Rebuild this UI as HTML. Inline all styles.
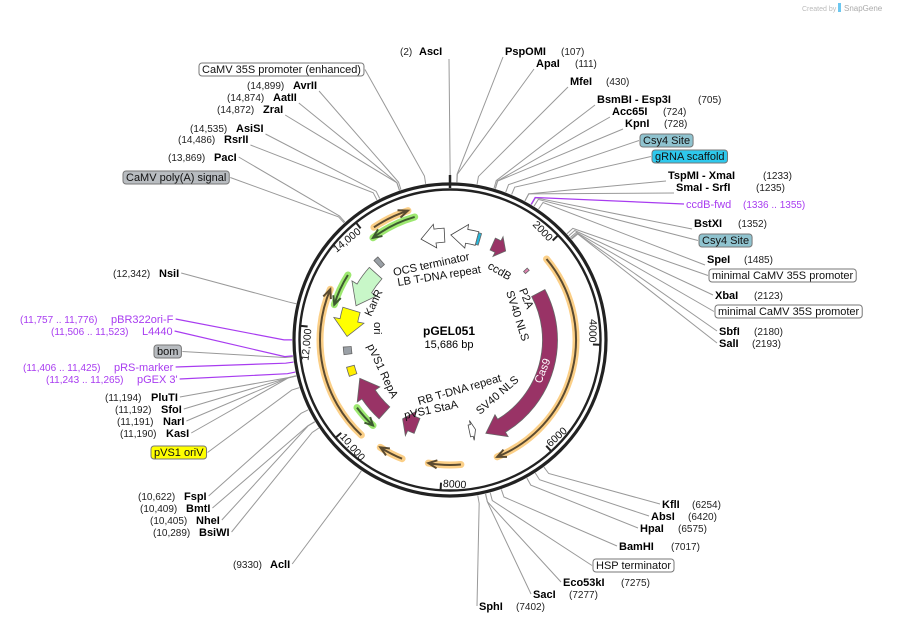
<!DOCTYPE html>
<html><head><meta charset="utf-8">
<style>
html,body{margin:0;padding:0;background:#fff;}
svg{display:block;font-family:"Liberation Sans","DejaVu Sans",sans-serif;}
.en{font-weight:bold;font-size:11px;fill:#000;}
.num{font-size:10px;fill:#222;}
.prim{font-size:11px;fill:#a83cf0;}
.primn{font-size:10px;fill:#a83cf0;}
.flab{font-size:11px;fill:#111;}
</style></head>
<body>
<svg id="map" width="899" height="624" viewBox="0 0 899 624">
<text x="802" y="11" font-size="7" fill="#bbb">Created by</text>
<rect x="838" y="3" width="3" height="9" fill="#6cc7f0"/>
<text x="844" y="11" font-size="8" fill="#aaa">SnapGene</text>
<g id="leaders"></g>
<g id="ring"></g>
<g id="feats"></g>
<g id="labels"></g>
<text x="449" y="335" text-anchor="middle" font-weight="bold" font-size="12">pGEL051</text>
<text x="449" y="348" text-anchor="middle" font-size="11">15,686 bp</text>
</svg>
<script>
const TOTAL = 15686;
const CX = 450, CY = 340, R = 156;
// tick positions (bp) and labels
const tickBp = [2000, 4000, 6000, 8000, 10000, 12000, 14000];
const tickLabels = ["2000", "4000", "6000", "8000", "10,000", "12,000", "14,000"];
// features
const featNames = ["Cas9","Cas9-primer-arc","arc-bottom-1","arc-bottom-2","arc-left","arc-top","green-small","green-left","green-top","OCS-terminator","LB-T-DNA-repeat","cyan-site","ccdB","KanR","ori","bom-box","oriV-box","pVS1-RepA","pVS1-StaA","RB-T-DNA-repeat","polyA-box","P2A-site"];
const featStart = [2701, 2179, 7625, 8801, 9716, 14204, 9673, 12505, 14073, 14988, 20, 650, 1046, 12636, 11851, 11420, 10900, 9673, 8758, 7150, 13780, 2050];
const featEnd   = [6928, 6884, 8278, 9281, 12766, 14901, 10195, 13180, 14988, 15555, 650, 720, 1394, 13594, 12505, 11600, 11120, 10762, 9194, 7320, 13900, 2120];
const featR     = [100, 126, 125, 128, 130, 136, 115, 121, 128, 105, 105, 105, 105, 100, 103, 103, 103, 98, 92, 93, 105, 103];
const featW     = [15, 3, 3, 3, 3, 3, 3, 3, 3, 14, 14, 12, 13, 17, 18, 8, 8, 16, 16, 12, 10, 5];
const featFill  = ["#993366","#5a4a30","#5a4a30","#5a4a30","#5a4a30","#5a4a30","#3d5a30","#3d5a30","#3d5a30","#fff","#fff","#25b8dc","#993366","#c8f7c8","#ffff00","#9aa0a6","#ffee00","#993366","#993366","#fff","#9aa0a6","#e080b0"];
const featHalo  = [null,"#fbcf87","#fbcf87","#fbcf87","#fbcf87","#fbcf87","#9de870","#9de870","#9de870",null,null,null,null,null,null,null,null,null,null,null,null,null];
const featDir   = [1, 1, 1, 1, 1, 1, -1, -1, -1, -1, -1, 0, 1, -1, -1, 0, 0, 1, 1, -1, 0, 0];

// enzyme labels
const labName = ["AscI","PspOMI","ApaI","MfeI","BsmBI   - Esp3I","Acc65I","KpnI","TspMI   - XmaI","SmaI   - SrfI","BstXI","SpeI","XbaI","SbfI","SalI","KflI","AbsI","HpaI","BamHI","Eco53kI","SacI","SphI","AclI","FspI","BmtI","NheI","BsiWI","PluTI","SfoI","NarI","KasI","NsiI","PacI","RsrII","AsiSI","ZraI","AatII","AvrII"];
const labNum  = ["(2)","(107)","(111)","(430)","(705)","(724)","(728)","(1233)","(1235)","(1352)","(1485)","(2123)","(2180)","(2193)","(6254)","(6420)","(6575)","(7017)","(7275)","(7277)","(7402)","(9330)","(10,622)","(10,409)","(10,405)","(10,289)","(11,194)","(11,192)","(11,191)","(11,190)","(12,342)","(13,869)","(14,486)","(14,535)","(14,872)","(14,874)","(14,899)"];
const labBp   = [2,107,111,430,705,724,728,1233,1235,1352,1485,2123,2180,2193,6254,6420,6575,7017,7275,7277,7402,9330,10622,10409,10405,10289,11194,11192,11191,11190,12342,13869,14486,14535,14872,14874,14899];
const labNameX= [419,505,536,570,597,612,625,668,676,694,707,715,719,719,662,651,640,619,563,533,479,270,184,186,196,199,151,161,163,166,159,214,224,236,263,273,293];
const labNumX = [400,561,575,606,698,663,664,763,756,738,744,754,754,752,692,688,678,671,621,569,516,233,138,140,150,153,105,115,117,120,113,168,178,190,217,227,247];
const labY    = [55,55,67,85,103,115,127,179,191,227,263,299,335,347,508,520,532,550,586,598,610,568,500,512,524,536,401,413,425,437,277,161,143,132,113,101,89];

// boxed feature labels
const boxText = ["Csy4 Site","gRNA scaffold","Csy4 Site","minimal CaMV 35S promoter","minimal CaMV 35S promoter","HSP terminator","pVS1 oriV","bom","CaMV poly(A) signal","CaMV 35S promoter (enhanced)"];
const boxX    = [640,652,699,709,715,593,151,154,123,199];
const boxY    = [134,150,234,269,305,559,446,345,171,63];
const boxBp   = [900,1000,1400,2080,2160,7200,11000,11500,13850,15300];
const boxFill = ["#8fc3cf","#2ec8ec","#8fc3cf","#fff","#fff","#fff","#ffff00","#b8bcc0","#b8bcc0","#fff"];

// primers
const primName = ["ccdB-fwd","pBR322ori-F","L4440","pRS-marker","pGEX 3'"];
const primRange= ["(1336 .. 1355)","(11,757 .. 11,776)","(11,506 .. 11,523)","(11,406 .. 11,425)","(11,243 .. 11,265)"];
const primBp   = [1345,11766,11514,11415,11254];
const primNameX= [686,111,142,114,137];
const primNumX = [743,20,51,23,46];
const primY    = [208,323,335,371,383];

const NS = "http://www.w3.org/2000/svg";
function mk(tag, attrs, parent){const e=document.createElementNS(NS,tag);for(const k in attrs)e.setAttribute(k,attrs[k]);parent.appendChild(e);return e;}
function ang(bp){return bp/TOTAL*360;}
function pt(deg,r){const a=deg*Math.PI/180;return [CX+r*Math.sin(a),CY-r*Math.cos(a)];}

const ring=document.getElementById('ring');
let c1=mk('circle',{cx:CX,cy:CY,r:R,fill:'none',stroke:'#222','stroke-width':3.2},ring);


let c2=mk('circle',{cx:CX,cy:CY,r:R-5.5,fill:'none',stroke:'#222','stroke-width':2.4},ring);


let t0=mk('line',{x1:CX,y1:CY-R-9,x2:CX,y2:CY-R+4,stroke:'#222','stroke-width':2.5},ring);


tickBp.forEach((b,i)=>{
  const d=ang(b);
  const p1=pt(d,R-6), p2=pt(d,R-13);
  const l=mk('line',{x1:p1[0],y1:p1[1],x2:p2[0],y2:p2[1],stroke:'#222','stroke-width':2},ring);
  
  
  const flip = d>100 && d<270;
  const tp=pt(d,R-8);
  const t=mk('text',{x:tp[0],y:tp[1],'font-size':10.5,fill:'#111'},ring);
  if(flip){
    t.setAttribute('transform',`rotate(${d-180} ${tp[0]} ${tp[1]})`);
    t.setAttribute('text-anchor','start');
    t.setAttribute('x',tp[0]+2);
    t.setAttribute('y',tp[1]-1);
  } else {
    t.setAttribute('transform',`rotate(${d} ${tp[0]} ${tp[1]})`);
    t.setAttribute('text-anchor','end');
    t.setAttribute('x',tp[0]-2);
    t.setAttribute('y',tp[1]+9);
  }
  t.textContent=tickLabels[i];
  
  
});

function arcPath(a1,a2,r){const p=pt(a1,r),q=pt(a2,r);const large=Math.abs(a2-a1)>180?1:0;const sw=a2>a1?1:0;return `M${p[0]},${p[1]} A${r},${r} 0 ${large} ${sw} ${q[0]},${q[1]}`;}
function bandPath(a1,a2,r,w,dir){
  const ri=r-w/2, ro=r+w/2;
  const head=Math.min((w*0.9+4)/r*180/Math.PI, Math.abs(a2-a1)*0.6);
  let s=a1,e=a2;
  if(dir===0){
    const p1=pt(s,ro),p2=pt(e,ro),p3=pt(e,ri),p4=pt(s,ri);
    return `M${p1} A${ro},${ro} 0 0 1 ${p2} L${p3} A${ri},${ri} 0 0 0 ${p4} Z`;
  }
  if(dir===1){
    const eb=e-head;const large=(eb-s)>180?1:0;
    const p1=pt(s,ro),p2=pt(eb,ro),h1=pt(eb,ro+w*0.35),tip=pt(e,r),h2=pt(eb,ri-w*0.35),p3=pt(eb,ri),p4=pt(s,ri);
    return `M${p1} A${ro},${ro} 0 ${large} 1 ${p2} L${h1} L${tip} L${h2} L${p3} A${ri},${ri} 0 ${large} 0 ${p4} Z`;
  } else {
    const sb=s+head;const large=(e-sb)>180?1:0;
    const p1=pt(e,ro),p2=pt(sb,ro),h1=pt(sb,ro+w*0.35),tip=pt(s,r),h2=pt(sb,ri-w*0.35),p3=pt(sb,ri),p4=pt(e,ri);
    return `M${p1} A${ro},${ro} 0 ${large} 0 ${p2} L${h1} L${tip} L${h2} L${p3} A${ri},${ri} 0 ${large} 1 ${p4} Z`;
  }
}
const feats=document.getElementById('feats');
featNames.forEach((n,i)=>{
  const a1=ang(featStart[i]),a2=ang(featEnd[i]);
  const g=mk('g',{},feats);
  
  
  if(featHalo[i]){
    mk('path',{d:arcPath(a1,a2,featR[i]),fill:'none',stroke:featHalo[i],'stroke-width':7,'stroke-linecap':'round'},g);
    mk('path',{d:arcPath(a1,a2,featR[i]),fill:'none',stroke:featFill[i],'stroke-width':2},g);
    const tipA=featDir[i]===1?a2:a1, back=featDir[i]===1?a2-4:a1+4;
    const tip=pt(tipA,featR[i]), b1=pt(back,featR[i]+4), b2=pt(back,featR[i]-4);
    mk('path',{d:`M${b1} L${tip} L${b2}`,fill:'none',stroke:featFill[i],'stroke-width':2},g);
  } else {
    mk('path',{d:bandPath(a1,a2,featR[i],featW[i],featDir[i]),fill:featFill[i],stroke:featFill[i]==='#fff'?'#444':'#666','stroke-width':0.8},g);
  }
});

// feature labels inside: [text, x, y, rotation, name]
const innerText=[["OCS terminator",394,276,-12,"ocs-label"],["LB T-DNA repeat",398,286,-9,"lb-label"],["ccdB",487,268,30,"ccdB-label"],["P2A",519,290,68,"p2a-label"],["SV40 NLS",506,292,72,"sv40-nls-top-label"],["KanR",371,317,-65,"kanr-label"],["ori",374,322,90,"ori-label"],["pVS1 RepA",367,346,65,"repa-label"],["RB T-DNA repeat",419,405,-16,"rb-label"],["pVS1 StaA",405,419,-12,"staa-label"],["SV40 NLS",480,415,-41,"sv40-nls-bottom-label"]];
const lg=document.getElementById('labels');
innerText.forEach(t=>{
  const e=mk('text',{x:t[1],y:t[2],'font-size':11.2,fill:'#111',transform:`rotate(${t[3]} ${t[1]} ${t[2]})`},lg);
  e.textContent=t[0];
  
  
});
const cas=mk('text',{x:541,y:384,'font-size':11,fill:'#fff',transform:'rotate(-68 541 384)'},lg);
cas.textContent='Cas9';



const leaders=document.getElementById('leaders');
function leader(ax,ay,bp,color,name){
  const d=ang(bp);
  const p1=pt(d,R+10),p2=pt(d,R+2);
  const l=mk('polyline',{points:`${ax},${ay} ${p1} ${p2}`,fill:'none',stroke:color,'stroke-width':color==='#999'?1:1.2},leaders);
  
  
}
labName.forEach((n,i)=>{
  const g=mk('g',{},lg);
  
  
  const a=mk('text',{x:labNameX[i],y:labY[i],class:'en'},g);a.textContent=n;
  const b=mk('text',{x:labNumX[i],y:labY[i],class:'num'},g);b.textContent=labNum[i];
  const bb=g.getBBox();
  const d=ang(labBp[i]);
  let ax,ay=labY[i]-4;
  if(i===0){ax=449;ay=59;}
  else if(d<180){ax=bb.x-2; if(d<40) ay=labY[i]+2;}
  else {ax=bb.x+bb.width+2; if(d>320) ay=labY[i]+2;}
  leader(ax,ay,labBp[i],'#999',n);
});
boxText.forEach((t,i)=>{
  const g=mk('g',{},lg);
  
  
  const tx=mk('text',{x:boxX[i]+3,y:boxY[i]+10,class:'flab'},g);tx.textContent=t;
  const w=tx.getComputedTextLength()+6;
  const r=mk('rect',{x:boxX[i],y:boxY[i],width:w,height:13,rx:3,fill:boxFill[i],stroke:'#777','stroke-width':1},g);
  g.insertBefore(r,tx);
  const d=ang(boxBp[i]);
  const ax=d<180?boxX[i]-1:boxX[i]+w+1;
  leader(ax,boxY[i]+6.5,boxBp[i],'#999',t);
});
primName.forEach((n,i)=>{
  const g=mk('g',{},lg);
  
  
  const a=mk('text',{x:primNameX[i],y:primY[i],class:'prim'},g);a.textContent=n;
  const b=mk('text',{x:primNumX[i],y:primY[i],class:'primn'},g);b.textContent=primRange[i];
  const bb=g.getBBox();
  const d=ang(primBp[i]);
  const ax=d<180?bb.x-2:bb.x+bb.width+2;
  leader(ax,primY[i]-4,primBp[i],'#a83cf0',n);
});
</script>
</body></html>
